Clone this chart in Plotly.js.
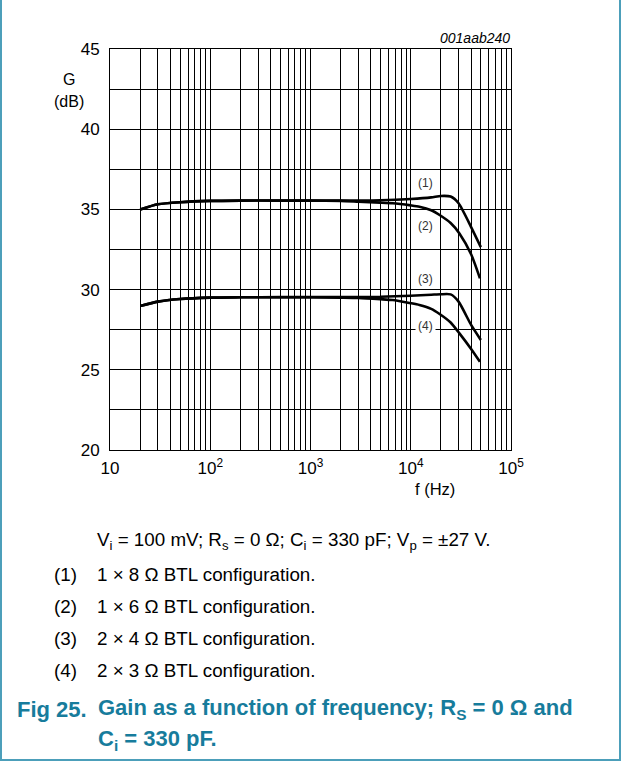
<!DOCTYPE html>
<html>
<head>
<meta charset="utf-8">
<script src="https://cdn.plot.ly/plotly-3.0.1.min.js"></script>
<style>
  html, body { margin: 0; padding: 0; background: #fff; }
  #wrap { position: relative; width: 621px; height: 761px; }
  #chart { position: absolute; left: 0; top: 0; width: 621px; height: 761px; }
  #frame { position: absolute; left: 0; top: -4px; width: 621px; height: 765px; box-sizing: border-box;
           border-left: 2px solid #4c9fba; border-right: 2px solid #4c9fba; border-bottom: 2px solid #4c9fba;
           pointer-events: none; }
</style>
</head>
<body>
<div id="wrap"><div id="chart"></div><div id="frame"></div></div>
<script>
// ---- data ----
const freq1 = [20, 30, 50, 100, 200, 500, 1000, 2000, 5000, 10000, 16000, 20000, 25000, 30000, 40000, 50000];
const gain1 = [35.0, 35.32, 35.45, 35.53, 35.55, 35.55, 35.55, 35.55, 35.57, 35.65, 35.75, 35.84, 35.8, 35.38, 33.9, 32.65];

const freq2 = [20, 30, 50, 100, 200, 500, 1000, 2000, 3000, 5000, 6600, 10000, 12200, 16000, 19400, 25000, 30600, 40000, 49000];
const gain2 = [35.0, 35.32, 35.45, 35.53, 35.55, 35.55, 35.55, 35.53, 35.48, 35.42, 35.38, 35.25, 35.17, 34.95, 34.65, 34.15, 33.5, 32.2, 30.7];

const freq3 = [20, 30, 50, 100, 200, 500, 1000, 2000, 5000, 10000, 16000, 20000, 25000, 30000, 40000, 50000];
const gain3 = [28.98, 29.25, 29.41, 29.5, 29.52, 29.53, 29.53, 29.53, 29.55, 29.62, 29.68, 29.71, 29.7, 29.25, 27.8, 26.86];

const freq4 = [20, 30, 50, 100, 200, 500, 1000, 2000, 3000, 5000, 6600, 10000, 12200, 16000, 19400, 25000, 30600, 40000, 49000];
const gain4 = [28.98, 29.25, 29.41, 29.5, 29.52, 29.52, 29.52, 29.5, 29.48, 29.4, 29.35, 29.15, 29.04, 28.8, 28.48, 27.95, 27.27, 26.3, 25.5];

const curveLabels = ["(1)", "(2)", "(3)", "(4)"];
const labelFreq = [14000, 14000, 14000, 14000];
const labelGain = [36.65, 33.98, 30.64, 27.75];

const xGridVals = [];
for (let d = 10; d <= 10000; d *= 10) for (let m = 1; m <= 9; m++) xGridVals.push(m * d);
xGridVals.push(100000);
const xDecadeText = {10: "10", 100: "10<sup>2</sup>", 1000: "10<sup>3</sup>", 10000: "10<sup>4</sup>", 100000: "10<sup>5</sup>"};
const xTickText = xGridVals.map(v => xDecadeText[v] || "");

const yGridVals = [20, 22.5, 25, 27.5, 30, 32.5, 35, 37.5, 40, 42.5, 45];
const yTickText = yGridVals.map(v => (v % 5 === 0 ? String(v) : ""));

const conditionText = "V<sub>i</sub> = 100 mV; R<sub>s</sub> = 0 Ω; C<sub>i</sub> = 330 pF; V<sub>p</sub> = ±27 V.";
const itemNums = ["(1)", "(2)", "(3)", "(4)"];
const itemTexts = ["1 × 8 Ω BTL configuration.", "1 × 6 Ω BTL configuration.", "2 × 4 Ω BTL configuration.", "2 × 3 Ω BTL configuration."];
const figNum = "Fig 25.";
const figTitle1 = "Gain as a function of frequency; R<sub>S</sub> = 0 Ω and";
const figTitle2 = "C<sub>i</sub> = 330 pF.";
const docId = "001aab240";

// ---- layout helpers (pixel -> paper) ----
const L = 110, R = 110, T = 49, B = 311, W = 621, H = 761;
const pw = W - L - R, ph = H - T - B;
const px = x => (x - L) / pw;
const py = y => (H - B - y) / ph;

const FONT = "Liberation Sans, Arial, sans-serif";
const teal = "#177c9c";
const BODY = 18.8;
const CAP = 22;

const lineStyle = {color: "#000", width: 2.6, shape: "spline", smoothing: 0.6};
const traces = [
  {x: freq1, y: gain1, mode: "lines", line: lineStyle, hoverinfo: "skip"},
  {x: freq2, y: gain2, mode: "lines", line: lineStyle, hoverinfo: "skip"},
  {x: freq3, y: gain3, mode: "lines", line: lineStyle, hoverinfo: "skip"},
  {x: freq4, y: gain4, mode: "lines", line: lineStyle, hoverinfo: "skip"}
];

const ann = [];
curveLabels.forEach((t, i) => ann.push({
  x: Math.log10(labelFreq[i]), y: labelGain[i], xref: "x", yref: "y", text: t, showarrow: false,
  font: {family: FONT, size: 12, color: "#333"}, bgcolor: "#fff", borderpad: 2
}));
ann.push({x: px(512), y: py(38), xref: "paper", yref: "paper", text: "<i>" + docId + "</i>", showarrow: false,
  xanchor: "right", yanchor: "middle", font: {family: FONT, size: 14, color: "#000"}});
ann.push({x: px(69), y: py(79), xref: "paper", yref: "paper", text: "G", showarrow: false,
  xanchor: "center", yanchor: "middle", font: {family: FONT, size: 16, color: "#000"}});
ann.push({x: px(69), y: py(101), xref: "paper", yref: "paper", text: "(dB)", showarrow: false,
  xanchor: "center", yanchor: "middle", font: {family: FONT, size: 16, color: "#000"}});
ann.push({x: px(435), y: py(489), xref: "paper", yref: "paper", text: "f (Hz)", showarrow: false,
  xanchor: "center", yanchor: "middle", font: {family: FONT, size: 16.5, color: "#000"}});
ann.push({x: px(95), y: py(541), xref: "paper", yref: "paper", text: conditionText, showarrow: false,
  xanchor: "left", yanchor: "middle", font: {family: FONT, size: BODY, color: "#000"}});
const itemY = [574, 606, 638, 670];
itemNums.forEach((n, i) => {
  ann.push({x: px(52), y: py(itemY[i]), xref: "paper", yref: "paper", text: n, showarrow: false,
    xanchor: "left", yanchor: "middle", font: {family: FONT, size: BODY, color: "#000"}});
  ann.push({x: px(95), y: py(itemY[i]), xref: "paper", yref: "paper", text: itemTexts[i], showarrow: false,
    xanchor: "left", yanchor: "middle", font: {family: FONT, size: BODY, color: "#000"}});
});
ann.push({x: px(15), y: py(709), xref: "paper", yref: "paper", text: "<b>" + figNum + "</b>", showarrow: false,
  xanchor: "left", yanchor: "middle", font: {family: FONT, size: CAP, color: teal}});
ann.push({x: px(96), y: py(709), xref: "paper", yref: "paper", text: "<b>" + figTitle1 + "</b>", showarrow: false,
  xanchor: "left", yanchor: "middle", font: {family: FONT, size: CAP, color: teal}});
ann.push({x: px(96), y: py(740), xref: "paper", yref: "paper", text: "<b>" + figTitle2 + "</b>", showarrow: false,
  xanchor: "left", yanchor: "middle", font: {family: FONT, size: CAP, color: teal}});

const layout = {
  width: W, height: H,
  margin: {l: L, r: R, t: T, b: B, pad: 0},
  paper_bgcolor: "#fff", plot_bgcolor: "#fff",
  showlegend: false,
  xaxis: {
    type: "log", range: [1, 5], tickmode: "array", tickvals: xGridVals, ticktext: xTickText,
    showgrid: true, gridcolor: "#000", gridwidth: 1, zeroline: false,
    showline: true, linecolor: "#000", linewidth: 1, mirror: true, ticks: "",
    ticklabelstandoff: 3,
    tickfont: {family: FONT, size: 17, color: "#000"}, fixedrange: true
  },
  yaxis: {
    range: [20, 45], tickmode: "array", tickvals: yGridVals, ticktext: yTickText,
    showgrid: true, gridcolor: "#000", gridwidth: 1, zeroline: false,
    showline: true, linecolor: "#000", linewidth: 1, mirror: true, ticks: "",
    ticklabelstandoff: 6,
    tickfont: {family: FONT, size: 17, color: "#000"}, fixedrange: true
  },
  annotations: ann
};

Plotly.newPlot("chart", traces, layout, {staticPlot: true, displayModeBar: false});
</script>
</body>
</html>
